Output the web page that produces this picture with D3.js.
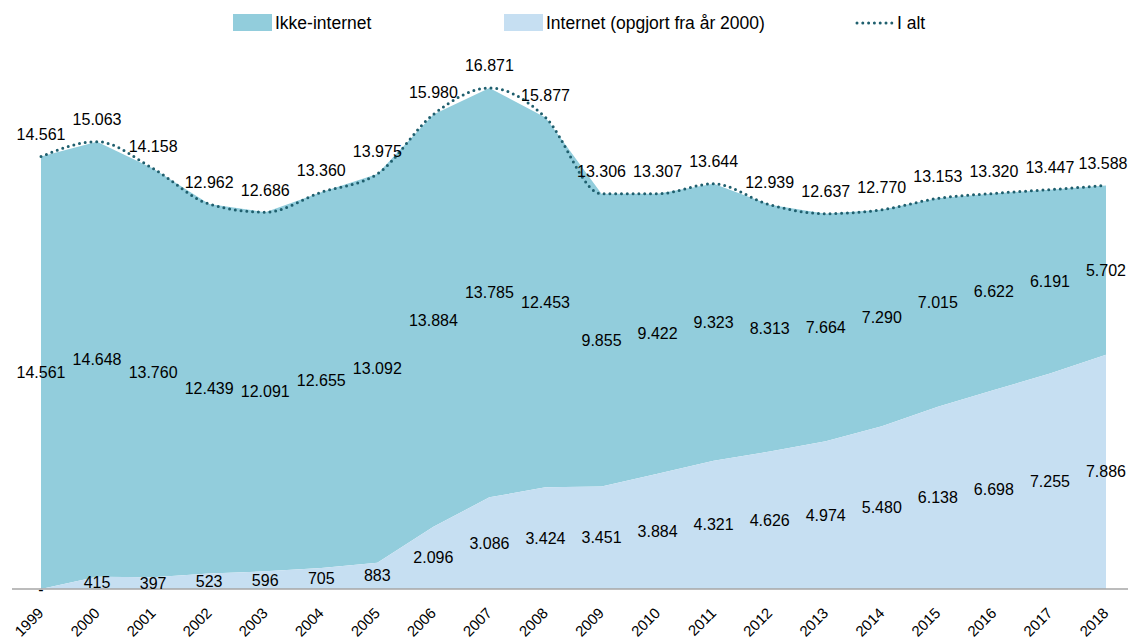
<!DOCTYPE html>
<html>
<head>
<meta charset="utf-8">
<script src="https://cdn.jsdelivr.net/npm/d3@7"></script>
<style>
  html, body { margin: 0; padding: 0; background: #fff; }
  svg { display: block; font-family: "Liberation Sans", Arial, sans-serif; }
</style>
</head>
<body>
<svg id="chart" width="1128" height="641"></svg>
<script>
// Years on the x axis
const years = ["1999","2000","2001","2002","2003","2004","2005","2006","2007","2008",
               "2009","2010","2011","2012","2013","2014","2015","2016","2017","2018"];
// Internet (counted from 2000)
const internet = [0, 415, 397, 523, 596, 705, 883, 2096, 3086, 3424,
                  3451, 3884, 4321, 4626, 4974, 5480, 6138, 6698, 7255, 7886];
// Non-internet
const ikkeInternet = [14561, 14648, 13760, 12439, 12091, 12655, 13092, 13884, 13785, 12453,
                      9855, 9422, 9323, 8313, 7664, 7290, 7015, 6622, 6191, 5702];
// Total (I alt)
const iAlt = [14561, 15063, 14158, 12962, 12686, 13360, 13975, 15980, 16871, 15877,
              13306, 13307, 13644, 12939, 12637, 12770, 13153, 13320, 13447, 13588];
// Legend entries
const seriesNames = ["Ikke-internet", "Internet (opgjort fra år 2000)", "I alt"];

const colTeal = "#92CDDC";
const colLight = "#C6DFF2";
const colDots = "#1F5F6E";

const fmt = v => v === 0 ? "-" : d3.format(",")(v).replace(/,/g, ".");

const data = years.map((y, i) => ({
  year: y,
  internet: internet[i],
  ikke: ikkeInternet[i],
  total: iAlt[i]
}));

const svg = d3.select("#chart");
const W = 1128;

const x = d3.scalePoint().domain(years).range([41, 1106]);
const y = d3.scaleLinear().domain([0, 18000]).range([589, 54.4]);

// Stacked areas
const stack = d3.stack().keys(["internet", "ikke"]);
const layers = stack(data);

const area = d3.area()
  .x(d => x(d.data.year))
  .y0(d => y(d[0]))
  .y1(d => y(d[1]));

svg.append("path").datum(layers[1]).attr("d", area).attr("fill", colTeal);
svg.append("path").datum(layers[0]).attr("d", area).attr("fill", colLight);

// Total line (dotted, smoothed)
const line = d3.line()
  .x(d => x(d.year))
  .y(d => y(d.total))
  .curve(d3.curveMonotoneX);

svg.append("path").datum(data)
  .attr("d", line)
  .attr("fill", "none")
  .attr("stroke", colDots)
  .attr("stroke-width", 3)
  .attr("stroke-linecap", "round")
  .attr("stroke-dasharray", "0 5.8");

// X axis
const xAxis = d3.axisBottom(x).tickSize(0).tickPadding(0);
const gx = svg.append("g").attr("transform", `translate(0,${y(0)})`).call(xAxis);
gx.select(".domain").remove();
svg.append("line")
  .attr("x1", 12).attr("x2", W)
  .attr("y1", y(0)).attr("y2", y(0))
  .attr("stroke", "#A6A6A6").attr("stroke-width", 1.5);
gx.selectAll(".tick text")
  .attr("font-family", "Liberation Sans, Arial, sans-serif")
  .attr("font-size", 15)
  .attr("fill", "#000")
  .attr("text-anchor", "end")
  .attr("dy", null)
  .attr("y", 0)
  .attr("transform", "translate(3,25) rotate(-45)");

// Value labels
const labels = svg.append("g")
  .attr("font-size", 16)
  .attr("fill", "#000")
  .attr("text-anchor", "middle")
  .attr("dominant-baseline", "central");

labels.selectAll(".lab-total").data(data).join("text")
  .attr("x", (d, i) => i === data.length - 1 ? x(d.year) - 3 : x(d.year))
  .attr("y", d => y(d.total) - 22)
  .text(d => fmt(d.total));

labels.selectAll(".lab-ikke").data(data).join("text")
  .attr("x", d => x(d.year))
  .attr("y", d => (y(d.internet) + y(d.internet + d.ikke)) / 2)
  .text(d => fmt(d.ikke));

labels.selectAll(".lab-int").data(data).join("text")
  .attr("x", d => x(d.year))
  .attr("y", d => (y(0) + y(d.internet)) / 2)
  .text(d => fmt(d.internet));

// Legend
const legend = svg.append("g").attr("font-size", 17.5).attr("fill", "#000");
const legItems = [
  { name: seriesNames[0], x: 233, type: "rect", color: colTeal },
  { name: seriesNames[1], x: 504, type: "rect", color: colLight },
  { name: seriesNames[2], x: 855, type: "line", color: colDots }
];
legItems.forEach(it => {
  if (it.type === "rect") {
    legend.append("rect").attr("x", it.x).attr("y", 14).attr("width", 39).attr("height", 17).attr("fill", it.color);
  } else {
    legend.append("line").attr("x1", it.x + 2).attr("x2", it.x + 38).attr("y1", 23).attr("y2", 23)
      .attr("stroke", it.color).attr("stroke-width", 3)
      .attr("stroke-linecap", "round").attr("stroke-dasharray", "0 5.8");
  }
  legend.append("text").attr("x", it.x + 42).attr("y", 23)
    .attr("dominant-baseline", "central").text(it.name);
});
</script>
</body>
</html>
